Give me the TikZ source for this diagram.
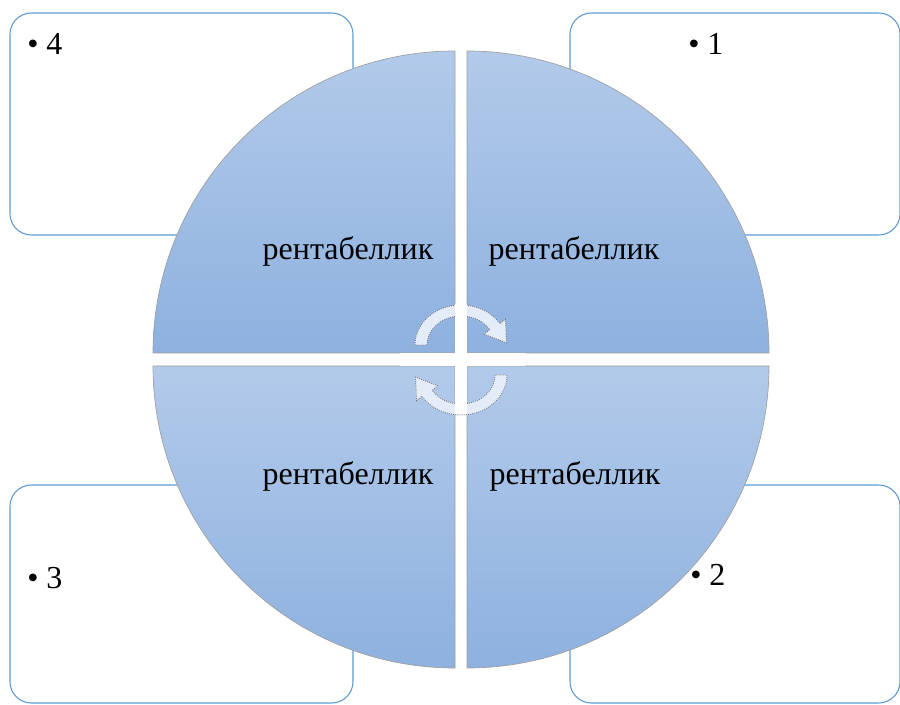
\documentclass[tikz,border=0pt]{standalone}
\usepackage{fontspec}
\setmainfont{Liberation Serif}
\usetikzlibrary{positioning, calc}
\definecolor{boxline}{RGB}{91,155,213}
\definecolor{quadtop}{RGB}{178,202,234}
\definecolor{quadbot}{RGB}{142,177,223}
\definecolor{turnfill}{RGB}{228,236,247}
\tikzset{
  card/.style={rectangle, rounded corners=16pt, draw=boxline, line width=0.8pt, fill=white, anchor=south west, outer sep=0pt, inner sep=0pt},
  quad/.style={draw=gray!75, line width=0.5pt, top color=quadtop, bottom color=quadbot},
  qtext/.style={font=\fontsize{24}{28}\selectfont, anchor=base, inner sep=0pt},
  bullet/.style={font=\fontsize{24}{28}\selectfont, anchor=base west, inner sep=0pt},
  turn/.style={fill=turnfill, draw=black!55, densely dotted, line width=0.6pt}
}
\begin{document}
\begin{tikzpicture}[x=0.75pt, y=0.75pt]
  \useasboundingbox (0,0) rectangle (900,704);

  % Rahmen
  \node (box4) [card, minimum width=257.25pt, minimum height=166.5pt] at (10,469) {};
  \node (box1) [card, minimum width=247.5pt, minimum height=166.5pt] at (570,469) {};
  \node (box3) [card, minimum width=257.25pt, minimum height=163.5pt] at (10,1) {};
  \node (box2) [card, minimum width=247.5pt, minimum height=163.5pt] at (570,1) {};

  \node (item4) [bullet] at (27,649) {• 4};
  \node (item1) [bullet] at (688,649) {• 1};
  \node (item3) [bullet] at (27,116) {• 3};
  \node (item2) [bullet] at (690,118) {• 2};

  % Viertelkreise
  \coordinate (mid) at (461,344);
  \path[quad] (455,351) -- ++(-302,0) arc[start angle=180, end angle=90, radius=302] -- cycle;
  \path[quad] (467,351) -- ++(302,0) arc[start angle=0, end angle=90, radius=302] -- cycle;
  \path[quad] (455,338) -- ++(-302,0) arc[start angle=180, end angle=270, radius=302] -- cycle;
  \path[quad] (467,338) -- ++(302,0) arc[start angle=0, end angle=-90, radius=302] -- cycle;

  \node (q4) [qtext] at (348,444) {рентабеллик};
  \node (q1) [qtext] at (574,444) {рентабеллик};
  \node (q3) [qtext] at (348,219) {рентабеллик};
  \node (q2) [qtext] at (575,219) {рентабеллик};

  % Pfeile in der Mitte
  \foreach \ang in {0,180} {
    \begin{scope}[shift={(mid)}, rotate=\ang]
      \path[turn] (-46,15) arc[start angle=180, end angle=32, x radius=46, y radius=40]
        -- (44.4,40.8) -- (45.5,17.1) -- (23.4,25.8) -- (28.8,30.4)
        arc[start angle=32, end angle=180, x radius=34, y radius=29] -- cycle;
    \end{scope}
  }
  \fill[white] (455,290) rectangle (467,400);
  \fill[white] (400,338) rectangle (525,351);
\end{tikzpicture}
\end{document}
